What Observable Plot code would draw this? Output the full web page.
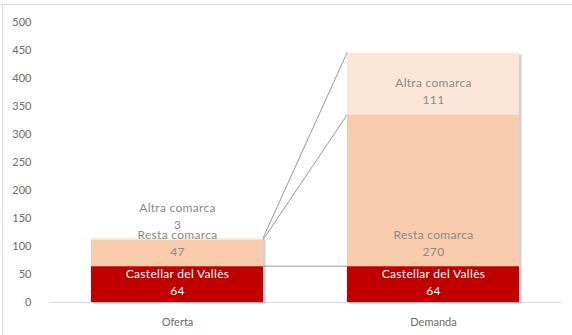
<!DOCTYPE html>
<html>
<head>
<meta charset="utf-8">
<script src="https://cdn.jsdelivr.net/npm/d3@7"></script>
<script src="https://cdn.jsdelivr.net/npm/@observablehq/plot@0.6"></script>
<style>
  html, body { margin: 0; padding: 0; background: #fff; }
  #wrap { position: relative; width: 572px; height: 335px; overflow: hidden; }
  #frame { position: absolute; left: 2px; top: 4px; width: 600px; height: 400px; border: 1px solid #d9d9d9; box-sizing: border-box; pointer-events: none; }
  #chart { position: absolute; left: 0; top: 0; }
  #chart svg text.lbl { letter-spacing: 0.3px; }
</style>
</head>
<body>
<div id="wrap"><div id="chart"></div><div id="frame"></div></div>
<script>
// ---- data ----
const categories = ["Oferta", "Demanda"];
const series = ["Castellar del Vallès", "Resta comarca", "Altra comarca"];
const oferta = [64, 47, 3];
const demanda = [64, 270, 111];
const yTicks = [0, 50, 100, 150, 200, 250, 300, 350, 400, 450, 500];

// ---- styles ----
const colors = ["#C00000", "#F8CBAD", "#FBE5D6"];
const labelColors = ["#ffffff", "#8a8a8a", "#8a8a8a"];

// ---- build stacked table ----
const valuesByCat = {Oferta: oferta, Demanda: demanda};
const rows = [];
for (const c of categories) {
  let acc = 0;
  valuesByCat[c].forEach((v, i) => {
    rows.push({cat: c, series: series[i], idx: i, value: v, y0: acc, y1: acc + v});
    acc += v;
  });
}
const cum = arr => { let a = 0; return arr.map(v => (a += v)); };
const ofCum = cum(oferta), deCum = cum(demanda);
const links = series.map((s, i) => ({from: categories[0], fromY: ofCum[i], to: categories[1], toY: deCum[i]}));

function connectors(index, scales) {
  const x = scales.x, y = scales.y, bw = x.bandwidth();
  const g = d3.create("svg:g").attr("stroke", "#8c8c8c").attr("stroke-width", 0.9).attr("fill", "none");
  for (const l of links) {
    g.append("line")
      .attr("x1", x(l.from) + bw).attr("y1", y(l.fromY))
      .attr("x2", x(l.to)).attr("y2", y(l.toY));
  }
  return g.node();
}

const font = "Lato, 'Open Sans', sans-serif";

const chart = Plot.plot({
  width: 572,
  height: 335,
  marginLeft: 49,
  marginRight: 11,
  marginTop: 22,
  marginBottom: 33,
  style: {fontFamily: font, fontSize: "11px", color: "#6b6b6b", background: "transparent"},
  x: {domain: categories, paddingInner: 0.33, paddingOuter: 0.165, label: null, tickSize: 0, tickPadding: 16},
  y: {domain: [0, 500], ticks: yTicks, label: null, tickSize: 0, tickPadding: 18},
  marks: [
    Plot.ruleY([0], {stroke: "#d9d9d9", strokeWidth: 1}),
    // shadow
    Plot.rectY(rows, {x: "cat", y1: "y0", y2: "y1", fill: "#9a9a9a", fillOpacity: 0.45, dx: 2.5, dy: 1.5}),
    Plot.rectY(rows, {x: "cat", y1: "y0", y2: "y1", fill: d => colors[d.idx]}),
    connectors,
    Plot.text(rows.filter(d => d.idx === 0), {
      x: "cat", y: "y0", text: d => `${d.series}\n${d.value}`, className: "lbl",
      fill: d => labelColors[d.idx], fontSize: 12, lineHeight: 1.42, lineAnchor: "middle", dy: -21, fontFamily: font
    }),
    Plot.text(rows.filter(d => d.idx !== 0), {
      x: "cat", y: "y0", text: d => `${d.series}\n${d.value}`, className: "lbl",
      fill: d => labelColors[d.idx], fontSize: 12, lineHeight: 1.42, lineAnchor: "middle", dy: -25, fontFamily: font
    })
  ]
});
chart.querySelectorAll("g[aria-label='text'] text").forEach(t => t.style.letterSpacing = "0.3px");
document.getElementById("chart").appendChild(chart);
</script>
</body>
</html>
